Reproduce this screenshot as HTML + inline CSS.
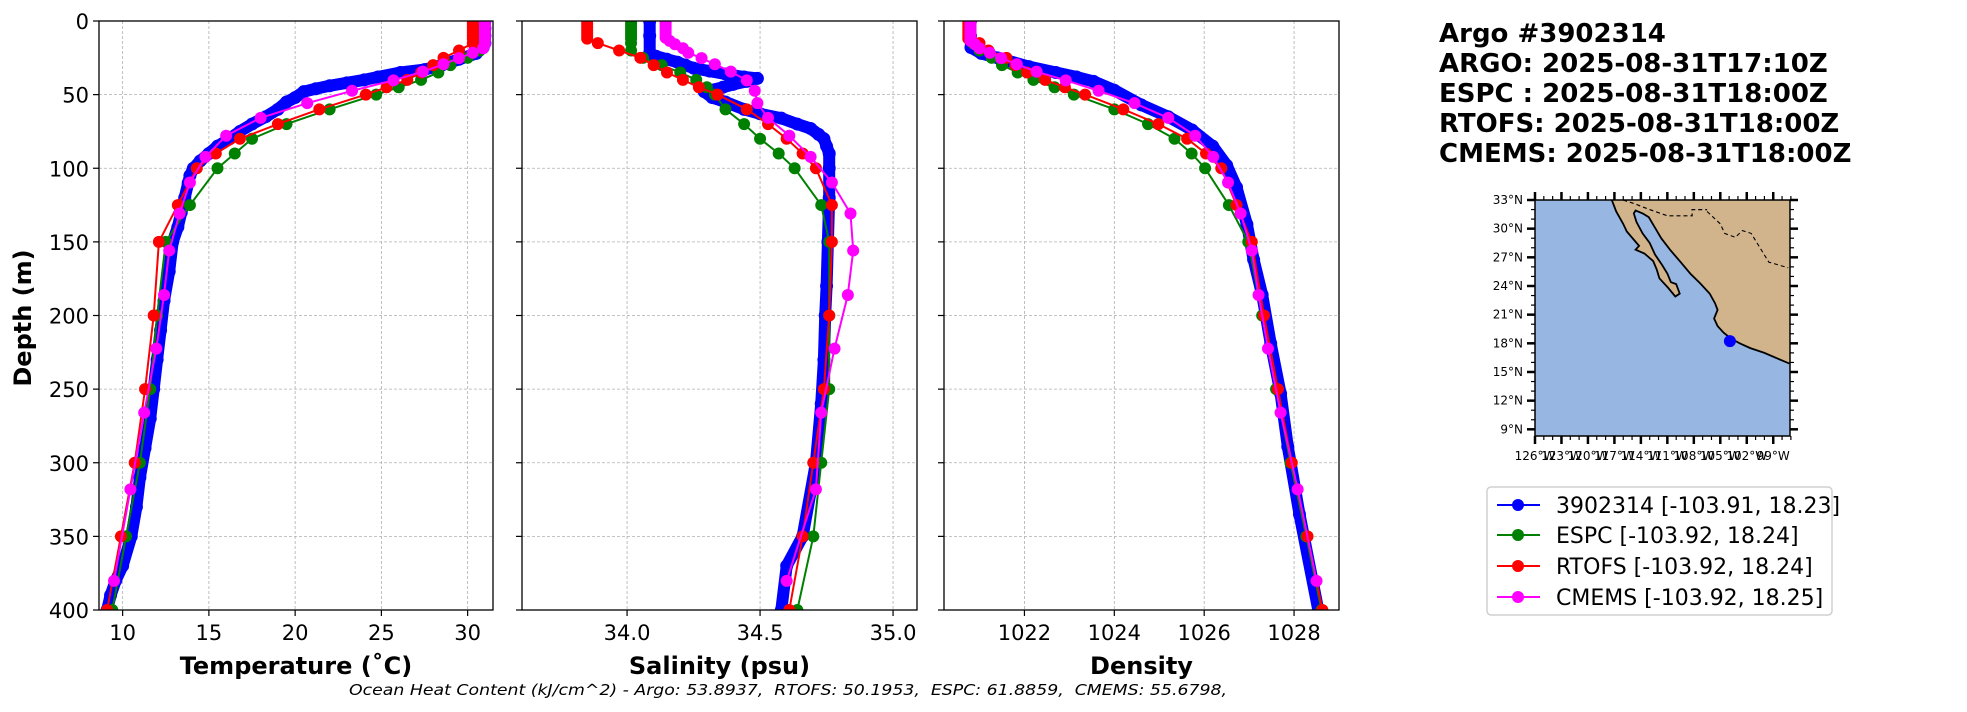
<!DOCTYPE html>
<html><head><meta charset="utf-8"><title>Argo profile comparison</title>
<style>
html,body{margin:0;padding:0;background:#fff;}
svg{display:block;font-family:"DejaVu Sans","Liberation Sans",sans-serif;}
</style></head>
<body>
<svg id="fig" width="1967" height="712" viewBox="0 0 1967 712" xmlns="http://www.w3.org/2000/svg">
<defs>
<clipPath id="clipT"><rect x="99" y="21" width="394" height="589"/></clipPath>
<clipPath id="clipS"><rect x="522" y="21" width="395" height="589"/></clipPath>
<clipPath id="clipD"><rect x="944" y="21" width="395" height="589"/></clipPath>
<clipPath id="clipM"><rect x="1535" y="200" width="255" height="236"/></clipPath>
</defs>
<g id="grids"></g>
<g id="series"></g>
<g id="axes"></g>
<g font-weight="bold" font-size="26" fill="#000">
<text x="1439" y="42">Argo #3902314</text>
<text x="1439" y="72">ARGO: 2025-08-31T17:10Z</text>
<text x="1439" y="102">ESPC : 2025-08-31T18:00Z</text>
<text x="1439" y="132">RTOFS: 2025-08-31T18:00Z</text>
<text x="1439" y="162">CMEMS: 2025-08-31T18:00Z</text>
</g>
<g id="map"></g>
<g>
<rect x="1487" y="487" width="345" height="128" rx="4" fill="#fff" stroke="#d0d0d0" stroke-width="1.5"/>
<g><line x1="1497" y1="505" x2="1540" y2="505" stroke="#0000ff" stroke-width="2"/><circle cx="1518" cy="505" r="6" fill="#0000ff"/><text x="1556" y="513" font-size="22">3902314 [-103.91, 18.23]</text></g>
<g><line x1="1497" y1="535" x2="1540" y2="535" stroke="#008000" stroke-width="2"/><circle cx="1518" cy="535" r="6" fill="#008000"/><text x="1556" y="543" font-size="22">ESPC [-103.92, 18.24]</text></g>
<g><line x1="1497" y1="566" x2="1540" y2="566" stroke="#ff0000" stroke-width="2"/><circle cx="1518" cy="566" r="6" fill="#ff0000"/><text x="1556" y="574" font-size="22">RTOFS [-103.92, 18.24]</text></g>
<g><line x1="1497" y1="597" x2="1540" y2="597" stroke="#ff00ff" stroke-width="2"/><circle cx="1518" cy="597" r="6" fill="#ff00ff"/><text x="1556" y="605" font-size="22">CMEMS [-103.92, 18.25]</text></g>
</g>
<text x="349" y="695" font-size="15" font-style="italic" textLength="878" lengthAdjust="spacingAndGlyphs" xml:space="preserve">Ocean Heat Content (kJ/cm^2) - Argo: 53.8937,  RTOFS: 50.1953,  ESPC: 61.8859,  CMEMS: 55.6798,</text>
</svg>
<script>
// ---------- data ----------
const modelDepth = [0,2,4,6,8,10,12,15,20,25,30,35,40,45,50,60,70,80,90,100,125,150,200,250,300,350,400];
const cmemsDepth = [0.5,1.5,2.6,3.8,5.1,6.4,7.9,9.6,11.4,13.5,15.8,18.5,21.6,25.2,29.4,34.4,40.3,47.4,55.8,65.8,77.9,92.3,109.7,130.7,155.9,186.1,222.5,266.0,318.1,380.2];

const argoTempDepth = [0,5,10,15,18,22,26,30,33,35,38,40,42,44,46,48,52,55,60,65,70,75,80,85,90,95,100,105,110,120,130,140,150,170,190,210,230,250,270,290,310,330,350,370,380,390,400];
const argoTemp = [31.0,31.0,31.0,31.0,30.9,30.5,29.5,28.5,27.5,26.1,24.8,24.0,23.0,22.0,21.2,20.5,20.0,19.5,19.0,18.3,17.5,16.8,16.2,15.5,15.0,14.5,14.1,13.9,13.8,13.6,13.4,13.2,12.9,12.7,12.4,12.2,12.0,11.8,11.6,11.3,11.0,10.8,10.5,10.0,9.6,9.3,9.1];
const espcTemp = [30.7,30.7,30.7,30.7,30.7,30.7,30.7,30.7,30.7,30.0,29.0,28.3,27.3,26.0,24.7,22.0,19.5,17.5,16.5,15.5,13.9,12.5,12.0,11.6,11.0,10.2,9.4];
const rtofsTemp = [30.3,30.3,30.3,30.3,30.3,30.3,30.3,30.3,29.5,28.6,28.0,27.3,26.5,25.3,24.1,21.4,19.0,16.8,15.4,14.3,13.2,12.1,11.8,11.3,10.7,9.9,9.1];
const cmemsTemp = [31.0,31.0,31.0,31.0,31.0,31.0,31.0,31.0,31.0,31.0,31.0,30.9,30.3,29.5,28.6,27.4,25.7,23.3,20.7,18.0,16.0,14.8,13.9,13.3,12.7,12.4,11.95,11.25,10.45,9.5];

const argoSalDepth = [0,10,22,24,26,28,30,32,34,36,38,39,41,43,45,48,52,55,60,63,66,70,73,77,80,85,90,100,120,150,180,200,230,260,300,350,370,400];
const argoSal = [34.085,34.085,34.085,34.11,34.15,34.19,34.22,34.25,34.31,34.37,34.44,34.49,34.45,34.40,34.36,34.29,34.32,34.37,34.44,34.50,34.58,34.64,34.69,34.72,34.74,34.75,34.76,34.76,34.76,34.755,34.75,34.745,34.74,34.73,34.71,34.66,34.60,34.58];
const espcSal = [34.015,34.015,34.015,34.015,34.015,34.015,34.015,34.015,34.015,34.06,34.13,34.20,34.26,34.30,34.33,34.37,34.44,34.50,34.57,34.63,34.73,34.76,34.76,34.76,34.73,34.70,34.64];
const rtofsSal = [33.85,33.85,33.85,33.85,33.85,33.85,33.85,33.89,33.97,34.05,34.10,34.15,34.21,34.27,34.34,34.45,34.53,34.60,34.66,34.71,34.77,34.77,34.76,34.74,34.70,34.66,34.61];
const cmemsSal = [34.145,34.145,34.145,34.145,34.145,34.145,34.145,34.145,34.145,34.16,34.18,34.21,34.23,34.28,34.33,34.39,34.45,34.48,34.49,34.53,34.61,34.69,34.77,34.84,34.85,34.83,34.78,34.73,34.71,34.60];

const argoDensDepth = [0,10,18,22,25,31,35,38,41,47,57,65,74,85,98,113,138,162,186,219,253,289,335,400];
const argoDens = [1020.8,1020.8,1020.81,1021.04,1021.4,1022.1,1022.7,1023.16,1023.54,1024.0,1024.6,1025.2,1025.73,1026.19,1026.5,1026.72,1026.95,1027.1,1027.29,1027.48,1027.7,1027.86,1028.12,1028.54];
const espcDens = [1020.8,1020.8,1020.8,1020.8,1020.8,1020.8,1020.8,1020.85,1021.0,1021.27,1021.5,1021.85,1022.2,1022.67,1023.1,1024.0,1024.75,1025.34,1025.72,1026.02,1026.55,1026.98,1027.29,1027.6,1027.92,1028.27,1028.61];
const rtofsDens = [1020.75,1020.75,1020.75,1020.75,1020.75,1020.75,1020.75,1021.0,1021.2,1021.6,1021.8,1022.06,1022.46,1022.9,1023.35,1024.2,1024.98,1025.62,1026.04,1026.38,1026.72,1027.06,1027.33,1027.64,1027.95,1028.3,1028.63];
const cmemsDens = [1020.8,1020.8,1020.8,1020.8,1020.8,1020.8,1020.8,1020.8,1020.8,1020.8,1020.9,1021.0,1021.23,1021.48,1021.83,1022.27,1022.92,1023.65,1024.45,1025.2,1025.8,1026.2,1026.53,1026.81,1027.06,1027.21,1027.42,1027.7,1028.08,1028.5];

const depthTicks = [0,50,100,150,200,250,300,350,400];
const tempTicks = [10,15,20,25,30];
const salTicks = [34.0,34.5,35.0];
const salTickLabels = ["34.0","34.5","35.0"];
const densTicks = [1022,1024,1026,1028];

const latTicks = [33,30,27,24,21,18,15,12,9];
const lonTicks = [-126,-123,-120,-117,-114,-111,-108,-105,-102,-99];
const floatLon = [-103.91];
const floatLat = [18.23];

// ---------- helpers ----------
const NS = "http://www.w3.org/2000/svg";
function mk(tag, attrs, parent){ const e=document.createElementNS(NS,tag); for(const k in attrs) e.setAttribute(k,attrs[k]); parent.appendChild(e); return e; }
const Y0=21, Y1=610;
function yDepth(d){ return Y0 + d/400*(Y1-Y0); }
const panels = [
  {key:"temp", x0:99, x1:493, min:8.63, max:31.47, ticks:tempTicks, labels:tempTicks.map(String), title:"Temperature (˚C)", clip:"clipT"},
  {key:"sal", x0:522, x1:917, min:33.605, max:35.09, ticks:salTicks, labels:salTickLabels, title:"Salinity (psu)", clip:"clipS"},
  {key:"dens", x0:944, x1:1339, min:1020.21, max:1029.0, ticks:densTicks, labels:densTicks.map(String), title:"Density", clip:"clipD"}
];
function xs(p,v){ return p.x0 + (v-p.min)/(p.max-p.min)*(p.x1-p.x0); }

const grids=document.getElementById('grids'), series=document.getElementById('series'), axes=document.getElementById('axes');

panels.forEach((p,pi)=>{
  const g=mk('g',{},grids);
  
  
  p.ticks.forEach(t=>{ const x=xs(p,t); mk('line',{x1:x,y1:Y0,x2:x,y2:Y1,stroke:'#b0b0b0','stroke-width':0.8,'stroke-dasharray':'3,2'},g); });
  depthTicks.forEach(d=>{ const y=yDepth(d); mk('line',{x1:p.x0,y1:y,x2:p.x1,y2:y,stroke:'#b0b0b0','stroke-width':0.8,'stroke-dasharray':'3,2'},g); });

  const ax=mk('g',{},axes);
  
  
  mk('rect',{x:p.x0,y:Y0,width:p.x1-p.x0,height:Y1-Y0,fill:'none',stroke:'#000','stroke-width':1.3},ax);
  p.ticks.forEach((t,i)=>{
    const x=xs(p,t);
    mk('line',{x1:x,y1:Y1,x2:x,y2:Y1+6,stroke:'#000','stroke-width':1.2},ax);
    const tx=mk('text',{x:x,y:640,'font-size':21,'text-anchor':'middle'},ax);
    tx.textContent=p.labels[i];
    
    
  });
  depthTicks.forEach(d=>{
    const y=yDepth(d);
    mk('line',{x1:p.x0-6,y1:y,x2:p.x0,y2:y,stroke:'#000','stroke-width':1.2},ax);
    if(pi===0){
      const tx=mk('text',{x:p.x0-10,y:y+8,'font-size':21,'text-anchor':'end'},ax);
      tx.textContent=String(d);
      
      
    }
  });
  const xt=mk('text',{x:(p.x0+p.x1)/2,y:674,'font-size':24,'font-weight':'bold','text-anchor':'middle'},ax);
  xt.textContent=p.title;
  
  
});
const yt=mk('text',{x:0,y:0,'font-size':24,'font-weight':'bold','text-anchor':'middle',transform:'translate(31,318) rotate(-90)'},axes);
yt.textContent='Depth (m)';



function drawSeries(p, name, color, depths, vals, lw, r){
  const g=mk('g',{'clip-path':'url(#'+p.clip+')'},series);
  
  
  const pts=vals.map((v,i)=>xs(p,v).toFixed(1)+','+yDepth(depths[i]).toFixed(1)).join(' ');
  mk('polyline',{points:pts,fill:'none',stroke:color,'stroke-width':lw,'stroke-linejoin':'round','stroke-linecap':'round'},g);
  vals.forEach((v,i)=>{
    const c=mk('circle',{cx:xs(p,v),cy:yDepth(depths[i]),r:r,fill:color},g);
    
    
  });
}
const P={temp:panels[0],sal:panels[1],dens:panels[2]};
drawSeries(P.temp,'argo','#0000ff',argoTempDepth,argoTemp,12,6.5);
drawSeries(P.temp,'espc','#008000',modelDepth,espcTemp,2,6);
drawSeries(P.temp,'rtofs','#ff0000',modelDepth,rtofsTemp,2,6);
drawSeries(P.temp,'cmems','#ff00ff',cmemsDepth,cmemsTemp,2,6);
drawSeries(P.sal,'argo','#0000ff',argoSalDepth,argoSal,12,6.5);
drawSeries(P.sal,'espc','#008000',modelDepth,espcSal,2,6);
drawSeries(P.sal,'rtofs','#ff0000',modelDepth,rtofsSal,2,6);
drawSeries(P.sal,'cmems','#ff00ff',cmemsDepth,cmemsSal,2,6);
drawSeries(P.dens,'argo','#0000ff',argoDensDepth,argoDens,12,6.5);
drawSeries(P.dens,'espc','#008000',modelDepth,espcDens,2,6);
drawSeries(P.dens,'rtofs','#ff0000',modelDepth,rtofsDens,2,6);
drawSeries(P.dens,'cmems','#ff00ff',cmemsDepth,cmemsDens,2,6);

// ---------- map ----------
const map=document.getElementById('map');
const MX0=1535, MX1=1790, MY0=200, MY1=436, LON0=-126, LON1=-97.1, LAT0=33, LAT1=8.3;
function mx(lon){ return MX0+(lon-LON0)/(LON1-LON0)*(MX1-MX0); }
function my(lat){ return MY0+(LAT0-lat)/(LAT0-LAT1)*(MY1-MY0); }
mk('rect',{x:MX0,y:MY0,width:MX1-MX0,height:MY1-MY0,fill:'#97b6e1'},map);
const coast=[[-117.3,33],[-116.8,31.8],[-116.0,30.5],[-115.6,29.7],[-114.2,28.2],[-114.6,27.8],[-113.6,27.4],[-112.6,26.6],[-112.2,25.7],[-111.9,24.8],[-110.9,23.8],[-110.1,22.9],[-109.6,23.2],[-110.0,24.2],[-110.6,24.4],[-111.0,25.3],[-111.6,26.2],[-112.4,27.3],[-113.0,28.5],[-113.8,29.5],[-114.5,30.7],[-114.8,31.6],[-114.6,31.9],[-113.8,31.6],[-113.1,31.2],[-112.4,30.1],[-111.7,29.0],[-110.7,27.8],[-109.5,26.5],[-108.4,25.3],[-107.3,24.3],[-106.2,23.2],[-105.6,22.2],[-105.3,21.5],[-105.7,20.6],[-105.3,19.8],[-104.6,19.1],[-103.8,18.5],[-102.8,18.0],[-101.6,17.5],[-100.0,17.0],[-98.5,16.4],[-97.2,15.9],[-97.0,15.9],[-97.0,33.5],[-117.3,33.5]];
const land=mk('polygon',{points:coast.map(c=>mx(c[0]).toFixed(1)+','+my(c[1]).toFixed(1)).join(' '),fill:'#d2b48c',stroke:'#000','stroke-width':1.8,'clip-path':'url(#clipM)'},map);


const border=[[-116.0,33],[-114.7,32.6],[-113.0,32.0],[-111.0,31.35],[-108.2,31.35],[-108.2,32.0],[-106.5,32.0]];
mk('polyline',{points:border.map(c=>mx(c[0]).toFixed(1)+','+my(c[1]).toFixed(1)).join(' '),fill:'none',stroke:'#000','stroke-width':1.2,'stroke-dasharray':'4,3','clip-path':'url(#clipM)'},map);
const river=[[-106.5,31.8],[-105,30.5],[-104.5,29.5],[-103.3,29.1],[-102.5,29.8],[-101.5,29.5],[-100.5,28.0],[-99.5,26.5],[-97.3,25.9]];
mk('polyline',{points:river.map(c=>mx(c[0]).toFixed(1)+','+my(c[1]).toFixed(1)).join(' '),fill:'none',stroke:'#000','stroke-width':1.1,'stroke-dasharray':'4,3','clip-path':'url(#clipM)'},map);
const fl=mk('circle',{cx:mx(floatLon[0]),cy:my(floatLat[0]),r:6,fill:'#0000ff'},map);


mk('rect',{x:MX0,y:MY0,width:MX1-MX0,height:MY1-MY0,fill:'none',stroke:'#000','stroke-width':1.5},map);
for(let lat=9; lat<=33; lat++){
  const y=my(lat), major=(lat%3===0), L=major?8:4;
  mk('line',{x1:MX0-L,y1:y,x2:MX0,y2:y,stroke:'#000','stroke-width':major?2.5:1.2},map);
  mk('line',{x1:MX1,y1:y,x2:MX1+L,y2:y,stroke:'#000','stroke-width':major?2.5:1.2},map);
}
for(let lon=-126; lon<=-97; lon++){
  const x=mx(lon), major=((lon+126)%3===0), L=major?8:4;
  mk('line',{x1:x,y1:MY0-L,x2:x,y2:MY0,stroke:'#000','stroke-width':major?2.5:1.2},map);
  mk('line',{x1:x,y1:MY1,x2:x,y2:MY1+L,stroke:'#000','stroke-width':major?2.5:1.2},map);
}
latTicks.forEach(lat=>{
  const t=mk('text',{x:MX0-12,y:my(lat)+4,'font-size':12,'text-anchor':'end'},map);
  t.textContent=lat+'°N';
  
  
});
lonTicks.forEach(lon=>{
  const t=mk('text',{x:mx(lon),y:MY1+24,'font-size':12,'text-anchor':'middle'},map);
  t.textContent=(-lon)+'°W';
  
  
});
</script>
</body></html>
